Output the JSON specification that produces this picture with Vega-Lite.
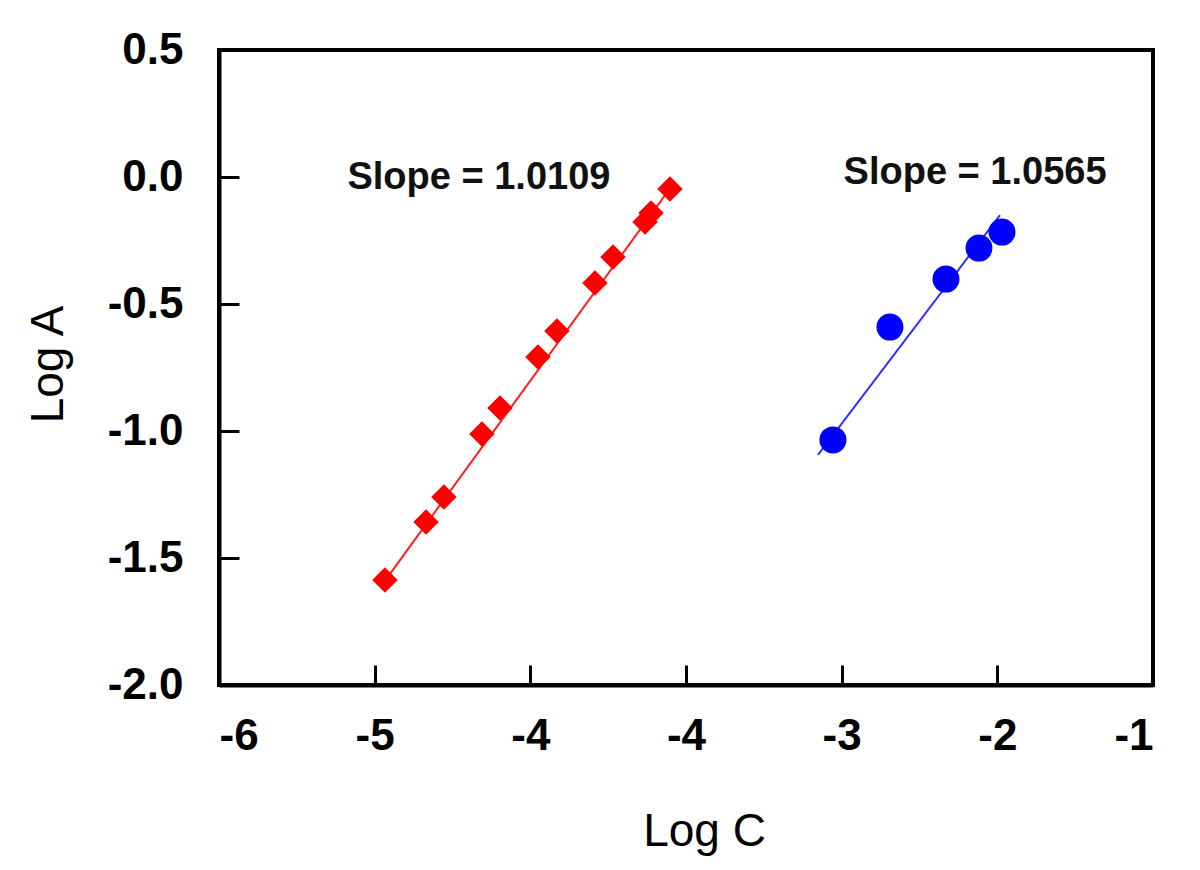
{
  "$schema": "https://vega.github.io/schema/vega-lite/v6.json",
  "autosize": {"type": "none"},
  "width": 934,
  "height": 635,
  "padding": {"left": 219, "top": 50, "right": 47, "bottom": 185},
  "background": "white",
  "config": {
    "view": {"stroke": "black", "strokeWidth": 4},
    "font": "Liberation Sans",
    "axis": {
      "grid": false,
      "domainColor": "black",
      "domainWidth": 4,
      "ticks": true,
      "tickColor": "black",
      "tickOpacity": 1,
      "tickWidth": 3,
      "labelFont": "Liberation Sans",
      "labelFontWeight": "bold",
      "labelFontSize": 44,
      "labelColor": "black",
      "titleFont": "Liberation Sans",
      "titleFontWeight": "normal",
      "titleFontSize": 46,
      "titleColor": "black"
    }
  },
  "datasets": {
    "points": [
      {"series": "red", "logC": -5.934, "logA": -1.587},
      {"series": "red", "logC": -5.670, "logA": -1.358},
      {"series": "red", "logC": -5.555, "logA": -1.260},
      {"series": "red", "logC": -5.311, "logA": -1.012},
      {"series": "red", "logC": -5.195, "logA": -0.909},
      {"series": "red", "logC": -4.951, "logA": -0.709},
      {"series": "red", "logC": -4.829, "logA": -0.606},
      {"series": "red", "logC": -4.585, "logA": -0.417},
      {"series": "red", "logC": -4.469, "logA": -0.315},
      {"series": "red", "logC": -4.263, "logA": -0.177},
      {"series": "red", "logC": -4.225, "logA": -0.142},
      {"series": "red", "logC": -4.103, "logA": -0.047},
      {"series": "blue", "logC": -3.056, "logA": -1.035},
      {"series": "blue", "logC": -2.690, "logA": -0.591},
      {"series": "blue", "logC": -2.330, "logA": -0.402},
      {"series": "blue", "logC": -2.118, "logA": -0.280},
      {"series": "blue", "logC": -1.970, "logA": -0.217}
    ],
    "fits": [
      {"series": "red", "logC": -5.934, "logA": -1.590},
      {"series": "red", "logC": -4.103, "logA": -0.045},
      {"series": "blue", "logC": -3.152, "logA": -1.094},
      {"series": "blue", "logC": -1.983, "logA": -0.150}
    ],
    "labels": [
      {"text": "Slope = 1.0109", "logC": -5.330, "logA": -0.004},
      {"text": "Slope = 1.0565", "logC": -2.143, "logA": 0.016}
    ]
  },
  "encoding": {
    "x": {
      "field": "logC",
      "type": "quantitative",
      "scale": {"domain": [-7, -1], "nice": false, "zero": false},
      "axis": {
        "title": "Log C",
        "zindex": 1,
        "values": [-7, -6, -5, -4, -3, -2, -1],
        "labelExpr": "'-' + (datum.value <= -5 ? abs(datum.value + 1) : abs(datum.value))",
        "tickSize": -20,
        "labelPadding": 49,
        "labelBaseline": "top",
        "titleX": 485,
        "titleY": 160,
        "titleAlign": "center",
        "titleBaseline": "alphabetic"
      }
    },
    "y": {
      "field": "logA",
      "type": "quantitative",
      "scale": {"domain": [-2, 0.5], "nice": false, "zero": false},
      "axis": {
        "title": "Log A",
        "zindex": 1,
        "values": [-2, -1.5, -1, -0.5, 0, 0.5],
        "labelExpr": "(datum.value < 0 ? '-' : '') + format(abs(datum.value), '.1f')",
        "tickSize": -20,
        "labelPadding": 56,
        "titleX": -157,
        "titleY": 314,
        "titleAngle": -90,
        "titleAlign": "center",
        "titleBaseline": "alphabetic"
      }
    }
  },
  "layer": [
    {
      "data": {"name": "fits"},
      "transform": [{"filter": "datum.series === 'red'"}],
      "mark": {"type": "line", "color": "#ff2020", "strokeWidth": 2}
    },
    {
      "data": {"name": "fits"},
      "transform": [{"filter": "datum.series === 'blue'"}],
      "mark": {"type": "line", "color": "#3030ff", "strokeWidth": 2}
    },
    {
      "data": {"name": "points"},
      "transform": [{"filter": "datum.series === 'red'"}],
      "mark": {"type": "point", "shape": "diamond", "filled": true, "color": "#ff0000", "size": 650, "opacity": 1}
    },
    {
      "data": {"name": "points"},
      "transform": [{"filter": "datum.series === 'blue'"}],
      "mark": {"type": "point", "shape": "circle", "filled": true, "color": "#0000ff", "size": 729, "opacity": 1}
    },
    {
      "data": {"name": "labels"},
      "mark": {"type": "text", "font": "Liberation Sans", "fontWeight": "bold", "fontSize": 38, "color": "#111111", "align": "center", "baseline": "middle"},
      "encoding": {"text": {"field": "text"}}
    }
  ]
}
